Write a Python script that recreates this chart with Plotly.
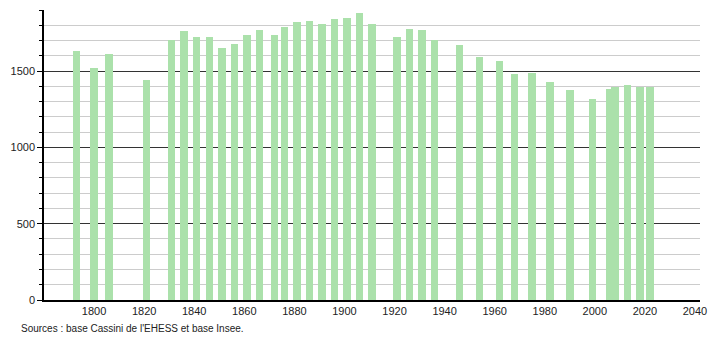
import plotly.graph_objects as go

years = [1793, 1800, 1806, 1821, 1831, 1836, 1841, 1846, 1851, 1856, 1861, 1866,
         1872, 1876, 1881, 1886, 1891, 1896, 1901, 1906, 1911, 1921, 1926, 1931,
         1936, 1946, 1954, 1962, 1968, 1975, 1982, 1990, 1999, 2006, 2008, 2013,
         2018, 2022]
population = [1633, 1520, 1612, 1441, 1702, 1763, 1721, 1721, 1651, 1678, 1737, 1768,
              1737, 1789, 1822, 1829, 1809, 1842, 1849, 1882, 1809, 1724, 1776, 1770,
              1702, 1671, 1592, 1566, 1480, 1487, 1428, 1375, 1316, 1382, 1397, 1408,
              1397, 1397]
x_ticks = [1800, 1820, 1840, 1860, 1880, 1900, 1920, 1940, 1960, 1980, 2000, 2020, 2040]
y_ticks = [0, 500, 1000, 1500]
source = "Sources : base Cassini de l'EHESS et base Insee."

fig = go.Figure()
fig.add_trace(go.Bar(
    x=years, y=population, width=3,
    marker=dict(color="#abe1ab", line=dict(width=0)),
    hoverinfo="x+y",
))

pw, ph = 710 - 44 - 10, 340 - 10 - 40

fig.update_layout(
    width=710, height=340,
    margin=dict(l=44, r=10, t=10, b=40, autoexpand=False),
    paper_bgcolor="white", plot_bgcolor="white",
    font=dict(family="Liberation Sans, Arial, sans-serif", size=11, color="#222"),
    showlegend=False,
    bargap=0,
    xaxis=dict(
        range=[1780, 2042], tickvals=x_ticks, ticktext=[str(t) for t in x_ticks],
        showgrid=False, zeroline=False, showline=True, linecolor="#000", linewidth=1.5,
        ticks="", tickfont=dict(size=11, color="#222"), automargin=False,
    ),
    yaxis=dict(
        range=[0, 1900], tickvals=y_ticks, ticktext=[str(t) for t in y_ticks],
        showgrid=True, gridcolor="#333", gridwidth=1,
        zeroline=False, showline=True, linecolor="#000", linewidth=1.5,
        ticks="outside", ticklen=5, tickcolor="#000", automargin=False,
        tickfont=dict(size=11, color="#222"),
        minor=dict(dtick=100, tick0=0, showgrid=True, gridcolor="#cccccc", gridwidth=1,
                   ticks="outside", ticklen=3, tickcolor="#000"),
    ),
    annotations=[dict(
        text=source, x=(19 - 44) / pw, y=(340 - 40 - 328.5) / ph,
        xref="paper", yref="paper", showarrow=False,
        xanchor="left", yanchor="middle", font=dict(size=10, color="#222"),
    )],
)

fig.write_html("out.html")
